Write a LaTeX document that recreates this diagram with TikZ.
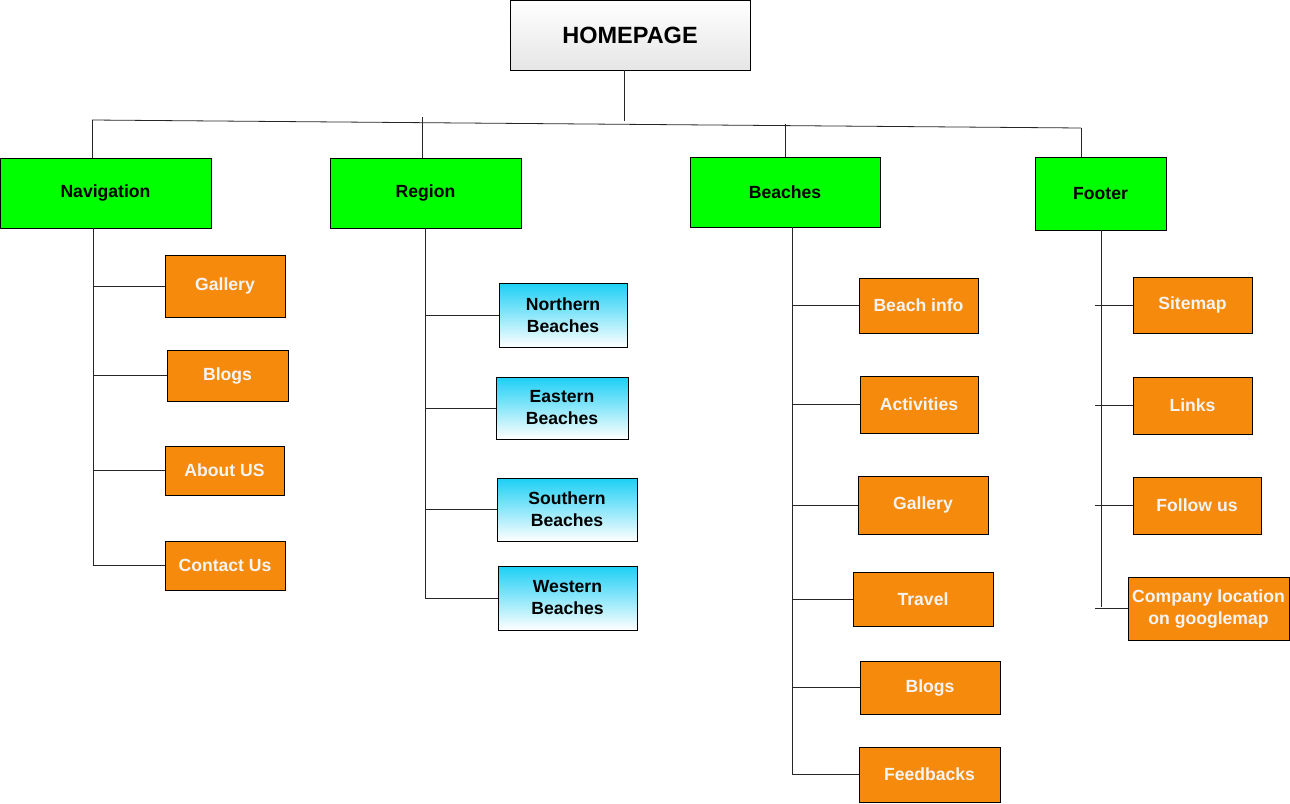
\documentclass[tikz,border=0pt]{standalone}
\usepackage{fontspec}
\setmainfont{Liberation Sans}
\definecolor{cgreen}{HTML}{00FF00}
\definecolor{corange}{HTML}{F68A0C}
\definecolor{ccyan}{HTML}{1CCFF5}
\definecolor{ctext}{HTML}{F4F4F4}
\begin{document}
\begin{tikzpicture}[x=1pt,y=-1pt]
\tikzset{
  box/.style={draw=black, line width=0.9pt, font=\bfseries\fontsize{17.6}{22}\selectfont, align=center, inner sep=0pt},
  grn/.style={box, fill=cgreen, text=black},
  org/.style={box, fill=corange, text=ctext},
  cyn/.style={box, top color=ccyan, bottom color=white, text=black},
  hom/.style={box, top color=white, bottom color=black!10, text=black, font=\bfseries\fontsize{23.5}{28}\selectfont},
  link/.style={draw=black!85, line width=0.8pt}
}
\useasboundingbox (0,0) rectangle (1290,803);
% top
\node[hom, minimum width=240, minimum height=70] (home) at (630,35) {HOMEPAGE};
% level 1
\node[grn, minimum width=211, minimum height=70] (nav) at (105.5,193) {Navigation};
\node[grn, minimum width=191, minimum height=70] (reg) at (425.5,193) {Region};
\node[grn, minimum width=190, minimum height=70] (bea) at (785,192) {Beaches};
\node[grn, minimum width=131, minimum height=73] (foo) at (1100.5,193.5) {Footer};
% navigation children
\node[org, minimum width=120, minimum height=62] (ngal) at (225,286) {Gallery};
\node[org, minimum width=121, minimum height=51] (nblo) at (227.5,375.5) {Blogs};
\node[org, minimum width=119, minimum height=49] (nabo) at (224.5,470.5) {About US};
\node[org, minimum width=120, minimum height=49] (ncon) at (225,565.5) {Contact Us};
% region children
\node[cyn, minimum width=128, minimum height=64] (rnor) at (563,315) {Northern\\Beaches};
\node[cyn, minimum width=132, minimum height=62] (reas) at (562,408) {Eastern\\Beaches};
\node[cyn, minimum width=140, minimum height=63] (rsou) at (567,509.5) {Southern\\Beaches};
\node[cyn, minimum width=139, minimum height=64] (rwes) at (567.5,598) {Western\\Beaches};
% beaches children
\node[org, minimum width=119, minimum height=55] (binf) at (918.5,305.5) {Beach info};
\node[org, minimum width=118, minimum height=57] (bact) at (919,404.5) {Activities};
\node[org, minimum width=130, minimum height=58] (bgal) at (923,505) {Gallery};
\node[org, minimum width=140, minimum height=54] (btra) at (923,599) {Travel};
\node[org, minimum width=140, minimum height=53] (bblo) at (930,687.5) {Blogs};
\node[org, minimum width=141, minimum height=55] (bfee) at (929.5,774.5) {Feedbacks};
% footer children
\node[org, minimum width=119, minimum height=56] (fsit) at (1192.5,305) {Sitemap};
\node[org, minimum width=119, minimum height=57] (flin) at (1192.5,405.5) {Links};
\node[org, minimum width=128, minimum height=57] (ffol) at (1197,505.5) {Follow us};
\node[org, minimum width=161, minimum height=63] (fcom) at (1208.5,608.5) {Company location\\on googlemap};
% bus
\coordinate (busL) at (92,120);
\coordinate (busR) at (1081,128);
\coordinate (stem) at (624,121);
\draw[link] (home.south -| stem) -- (stem);
\draw[link] (busL) -- (busR);
\draw[link] (busL) -- (busL |- nav.north);
\draw[link] (422,117) -- (422,158);
\draw[link] (785,124) -- (bea.north);
\draw[link] (busR) -- (busR |- foo.north);
% navigation tree
\coordinate (nt) at (93,228);
\draw[link] (nt) -- (nt |- ncon.west);
\foreach \c in {ngal,nblo,nabo,ncon} \draw[link] (nt |- \c.west) -- (\c.west);
% region tree
\coordinate (rt) at (425,228);
\draw[link] (rt) -- (425,598);
\foreach \c in {rnor,reas,rsou,rwes} \draw[link] (rt |- \c.west) -- (\c.west);
% beaches tree
\coordinate (bt) at (792,227);
\draw[link] (bt) -- (bt |- bfee.west);
\foreach \c in {binf,bact,bgal,btra,bblo,bfee} \draw[link] (bt |- \c.west) -- (\c.west);
% footer tree
\coordinate (ft) at (1101,230);
\draw[link] (ft) -- (1101,607);
\foreach \c in {fsit,flin,ffol,fcom} \draw[link] ([xshift=-6]ft |- \c.west) -- (\c.west);
\end{tikzpicture}
\end{document}
